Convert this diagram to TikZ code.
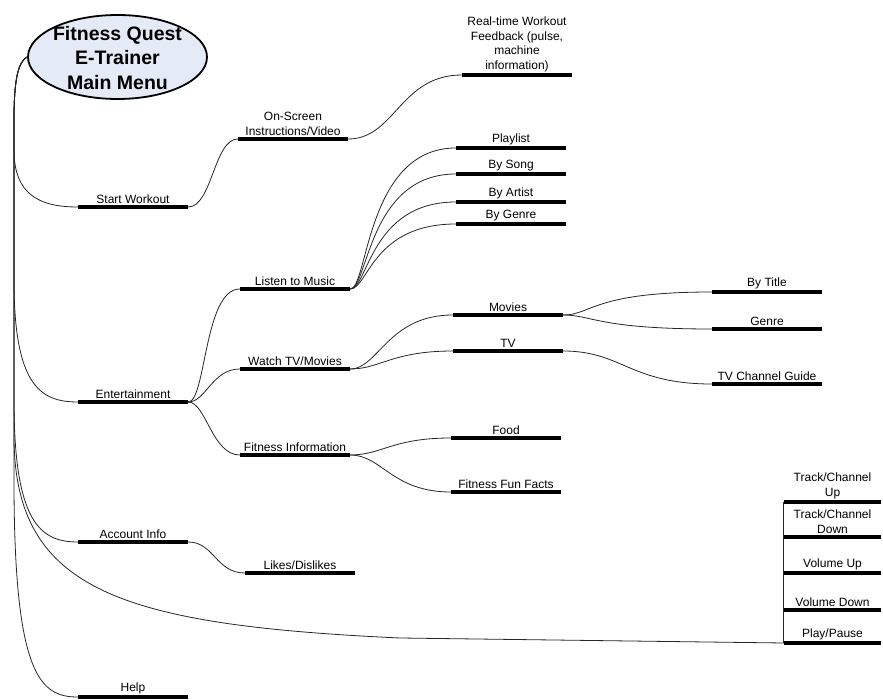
\documentclass[tikz,border=0pt]{standalone}
\usepackage{fontspec}
\setmainfont{Liberation Sans}
\usetikzlibrary{shapes.geometric}
\definecolor{titlefill}{HTML}{E4EBF7}
\begin{document}
\begin{tikzpicture}[x=1pt,y=-1pt,
  lbl/.style={font=\fontsize{12}{14.5}\selectfont, align=center, inner sep=1pt},
  bar/.style={fill=black, inner sep=0pt, minimum height=4pt, minimum width=110pt, label={[lbl]above:#1}},
  sbar/.style={fill=black, inner sep=0pt, minimum height=4pt, minimum width=97pt, label={[lbl]above:#1}},
  conn/.style={draw=black!85, line width=0.8pt},
]
\useasboundingbox (0,0) rectangle (883,700);

% root
\node[ellipse, draw=black, line width=1.8pt, fill=titlefill, minimum width=179pt, minimum height=84pt, inner sep=0pt] (root) at (117.5,57) {};
\node[align=center, inner sep=0pt, font=\fontsize{19.5}{24.5}\selectfont\bfseries] (roottext) at (117.5,58) {Fitness Quest\\E-Trainer\\Main Menu};

% level 1
\node[bar={Start Workout}] (sw) at (133,207) {};
\node[bar={Entertainment}] (ent) at (133,402) {};
\node[bar={Account Info}] (acc) at (133,542) {};
\node[bar={Help}] (help) at (133,697) {};

% level 2
\node[bar={On-Screen\\Instructions/Video}] (osi) at (293,139) {};
\node[bar={Listen to Music}] (music) at (295,289) {};
\node[bar={Watch TV/Movies}] (watch) at (295,369) {};
\node[bar={Fitness Information}] (fitinfo) at (295,455) {};
\node[bar={Likes/Dislikes}] (likes) at (300,573) {};

% level 3
\node[bar={Real-time Workout\\Feedback (pulse,\\machine\\information)}] (rt) at (517,75) {};
\node[bar={Playlist}] (playlist) at (511,148) {};
\node[bar={By Song}] (bysong) at (511,174) {};
\node[bar={By Artist}] (byartist) at (511,202) {};
\node[bar={By Genre}] (bygenre) at (511,224) {};
\node[bar={Movies}] (movies) at (508,315) {};
\node[bar={TV}] (tv) at (508,351) {};
\node[bar={Food}] (food) at (506,438) {};
\node[bar={Fitness Fun Facts}] (funfacts) at (506,492) {};

% level 4
\node[bar={By Title}] (bytitle) at (767,292) {};
\node[bar={Genre}] (genre) at (767,329) {};
\node[bar={TV Channel Guide}] (tvguide) at (767,384) {};

% right stack
\node[sbar={Track/Channel\\Up}] (tcu) at (832.5,502) {};
\node[sbar={Track/Channel\\Down}] (tcd) at (832.5,537) {};
\node[sbar={Volume Up}] (vu) at (832.5,573) {};
\node[sbar={Volume Down}] (vd) at (832.5,610) {};
\node[sbar={Play/Pause}] (pp) at (832.5,643) {};
\draw[conn] (tcu.west) -- (pp.west);

% root connectors
\draw[conn] (root.west) .. controls (18,62) and (14,80) .. (14,120) -- (14,150) .. controls (14,195) and (40,207) .. (sw.west);
\draw[conn] (root.west) .. controls (18,62) and (14,80) .. (14,120) -- (14,280) .. controls (14,385) and (40,402) .. (ent.west);
\draw[conn] (root.west) .. controls (18,62) and (14,80) .. (14,120) -- (14,400) .. controls (14,522) and (40,542) .. (acc.west);
\draw[conn] (root.west) .. controls (18,62) and (14,80) .. (14,120) -- (14,480) .. controls (14,675) and (40,697) .. (help.west);
\draw[conn] (root.west) .. controls (18,62) and (14,80) .. (14,120) -- (14,440) .. controls (16,590) and (120,625) .. (400,638) -- (pp.west);

% level 2 connectors
\draw[conn] (sw.east) .. controls (212,207) and (214,139) .. (osi.west);
\draw[conn] (ent.east) .. controls (206,402) and (204,289) .. (music.west);
\draw[conn] (ent.east) .. controls (206,402) and (212,369) .. (watch.west);
\draw[conn] (ent.east) .. controls (206,402) and (212,455) .. (fitinfo.west);
\draw[conn] (acc.east) .. controls (214,542) and (216,573) .. (likes.west);

% level 3 connectors
\draw[conn] (osi.east) .. controls (395,139) and (400,75) .. (rt.west);
\draw[conn] (music.east) .. controls (368,289) and (366,148) .. (playlist.west);
\draw[conn] (music.east) .. controls (368,289) and (368,174) .. (bysong.west);
\draw[conn] (music.east) .. controls (368,289) and (370,202) .. (byartist.west);
\draw[conn] (music.east) .. controls (368,289) and (372,224) .. (bygenre.west);
\draw[conn] (watch.east) .. controls (378,369) and (388,315) .. (movies.west);
\draw[conn] (watch.east) .. controls (380,369) and (392,351) .. (tv.west);
\draw[conn] (fitinfo.east) .. controls (382,455) and (392,438) .. (food.west);
\draw[conn] (fitinfo.east) .. controls (382,455) and (392,492) .. (funfacts.west);

% level 4 connectors
\draw[conn] (movies.east) .. controls (592,315) and (592,292) .. (bytitle.west);
\draw[conn] (movies.east) .. controls (592,315) and (598,329) .. (genre.west);
\draw[conn] (tv.east) .. controls (622,351) and (630,384) .. (tvguide.west);
\end{tikzpicture}
\end{document}
